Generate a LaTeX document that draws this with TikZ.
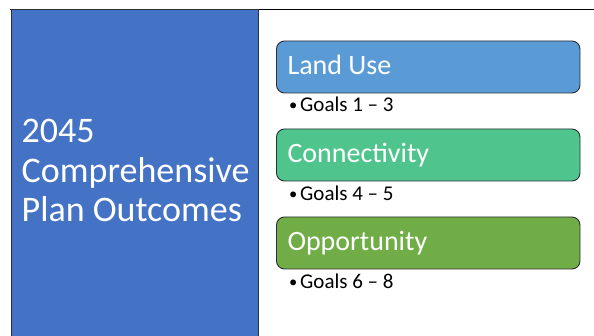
\documentclass[tikz,border=0pt]{standalone}
\usepackage{fontspec}
\setmainfont{Carlito}
\definecolor{titleblue}{HTML}{4472C4}
\definecolor{landblue}{HTML}{5B9BD5}
\definecolor{conngreen}{HTML}{4FC58D}
\definecolor{oppgreen}{HTML}{70AD47}
\definecolor{edge}{HTML}{2B2F36}
\newcommand{\goalbullet}{\makebox[11pt][l]{\raisebox{1.2pt}{\fontsize{16.5}{16.5}\selectfont •}}}
\begin{document}
\begin{tikzpicture}[x=1pt,y=-1pt,
  catbox/.style={draw=edge,line width=0.9pt,rounded corners=8pt},
  cattext/.style={text=white,font=\fontsize{28}{30}\selectfont,inner sep=0pt,anchor=base west},
  goaltext/.style={text=black,font=\fontsize{21}{24}\selectfont,inner sep=0pt,anchor=base west}]
\useasboundingbox (0,0) rectangle (594,336);
\fill[white] (0,0) rectangle (594,336);
% frame
\draw[black,line width=0.9pt] (10,9) -- (594,9);
\filldraw[fill=titleblue,draw=edge,line width=0.9pt] (11,9) rectangle (258,340);
\node[text=white,font=\fontsize{36}{39.5}\selectfont,align=left,inner sep=0pt,anchor=west] (title) at (21.5,170.8) {2045\\Comprehensive\\Plan Outcomes};
% categories
\filldraw[catbox,fill=landblue] (276.5,41) rectangle (580,93);
\node[cattext] (land) at (287.3,74.5) {Land Use};
\node[goaltext] (g1) at (289,112) {\goalbullet Goals 1 – 3};
\filldraw[catbox,fill=conngreen] (276.5,129) rectangle (580,181);
\node[cattext] (conn) at (287.3,162.5) {Connectivity};
\node[goaltext] (g2) at (289,200.7) {\goalbullet Goals 4 – 5};
\filldraw[catbox,fill=oppgreen] (276.5,217) rectangle (580,269);
\node[cattext] (opp) at (287.3,250.5) {Opportunity};
\node[goaltext] (g3) at (289,289) {\goalbullet Goals 6 – 8};
\end{tikzpicture}
\end{document}
